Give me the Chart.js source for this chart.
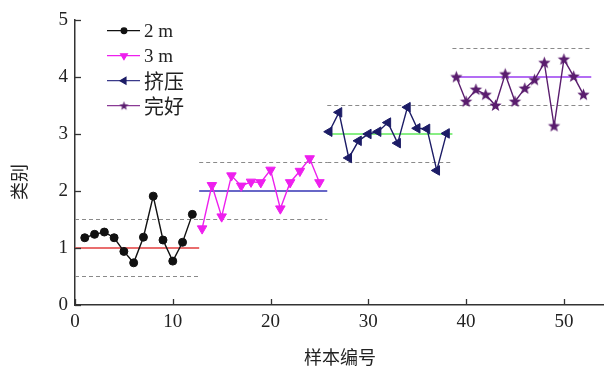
<!DOCTYPE html>
<html>
<head>
<meta charset="utf-8">
<script src="https://cdn.jsdelivr.net/npm/chart.js@4"></script>
<style>
  html, body { margin: 0; padding: 0; background: #fff; }
  canvas { display: block; }
</style>
</head>
<body>
<canvas id="classChart" width="604" height="369"></canvas>
<script>
// sample numbers and class values
const samples2m = [1, 2, 3, 4, 5, 6, 7, 8, 9, 10, 11, 12];
const values2m = [1.18, 1.24, 1.28, 1.18, 0.94, 0.74, 1.19, 1.91, 1.14, 0.77, 1.1, 1.59];

const samples3m = [13, 14, 15, 16, 17, 18, 19, 20, 21, 22, 23, 24, 25];
const values3m = [1.34, 2.1, 1.55, 2.27, 2.09, 2.16, 2.15, 2.37, 1.69, 2.15, 2.35, 2.57, 2.15];

const samplesSqueeze = [26, 27, 28, 29, 30, 31, 32, 33, 34, 35, 36, 37, 38];
const valuesSqueeze = [3.04, 3.38, 2.58, 2.88, 3.0, 3.04, 3.2, 2.84, 3.47, 3.1, 3.09, 2.36, 3.01];

const samplesIntact = [39, 40, 41, 42, 43, 44, 45, 46, 47, 48, 49, 50, 51, 52];
const valuesIntact = [4.0, 3.57, 3.78, 3.69, 3.5, 4.05, 3.57, 3.8, 3.95, 4.25, 3.14, 4.31, 4.01, 3.69];

// target class of each group and the sample range it covers
const classLevels = [1, 2, 3, 4];
const classSpans = [[0, 12.7], [12.7, 25.8], [25.8, 38.6], [38.6, 52.8]];
const classHalfWidth = 0.5;

const seriesLabels = ['2 m', '3 m', '挤压', '完好'];
const xTicks = [0, 10, 20, 30, 40, 50];
const yTicks = [0, 1, 2, 3, 4, 5];

const levelColors = ['#e23c3c', '#3535b5', '#5fe85a', '#9a3cf0'];
const SERIF = '"Liberation Serif", "Times New Roman", serif';
const CJK = '"Noto Sans CJK SC", sans-serif';

// filled five point star for the "完好" markers
function makeStar(color, size) {
    const c = document.createElement('canvas');
    c.width = size; c.height = size;
    const g = c.getContext('2d');
    const m = size / 2, ro = size * 0.43, ri = size * 0.18;
    g.fillStyle = color;
    g.beginPath();
    for (let i = 0; i < 10; i++) {
        const r = i % 2 === 0 ? ro : ri;
        const a = -Math.PI / 2 + i * Math.PI / 5;
        const px = m + r * Math.cos(a), py = m + 0.3 + r * Math.sin(a);
        if (i === 0) g.moveTo(px, py); else g.lineTo(px, py);
    }
    g.closePath();
    g.fill();
    return c;
}
const starImg = makeStar('#5a1d6e', 15);
const starSmall = makeStar('#5a1d6e', 11);

function toPoints(xs, ys) {
    return xs.map((x, i) => ({ x: x, y: ys[i] }));
}

const seriesStyles = [
    { color: '#111111', pointStyle: 'circle', legendStyle: 'circle', rotation: 0, radius: 4 },
    { color: '#ee1fee', pointStyle: 'triangle', legendStyle: 'triangle', rotation: 180, radius: 5.5 },
    { color: '#1c1c66', pointStyle: 'triangle', legendStyle: 'triangle', rotation: 270, radius: 5.5 },
    { color: '#5a1d6e', pointStyle: starImg, legendStyle: starSmall, rotation: 0, radius: 6 }
];
const legendLineColors = ['#111111', '#ee1fee', '#3a3a8a', '#8a3a95'];
const seriesData = [
    toPoints(samples2m, values2m),
    toPoints(samples3m, values3m),
    toPoints(samplesSqueeze, valuesSqueeze),
    toPoints(samplesIntact, valuesIntact)
];

const datasets = [];
seriesData.forEach((pts, i) => {
    const s = seriesStyles[i];
    datasets.push({
        label: seriesLabels[i],
        data: pts,
        showLine: true,
        borderColor: s.color,
        backgroundColor: s.color,
        borderWidth: 1.4,
        pointStyle: s.pointStyle,
        pointRotation: s.rotation,
        pointRadius: s.radius,
        pointBorderWidth: 1,
        order: 0
    });
});
classLevels.forEach((level, i) => {
    const span = classSpans[i];
    datasets.push({
        data: [{ x: span[0], y: level }, { x: span[1], y: level }],
        showLine: true,
        borderColor: levelColors[i],
        borderWidth: 1.6,
        pointRadius: 0,
        order: 1
    });
    [level - classHalfWidth, level + classHalfWidth].forEach(b => {
        datasets.push({
            data: [{ x: span[0], y: b }, { x: span[1], y: b }],
            showLine: true,
            borderColor: '#8a8a8a',
            borderWidth: 1.2,
            borderDash: [4, 3],
            pointRadius: 0,
            order: 2
        });
    });
});

// inward tick marks, axis titles and the in-plot legend
const decorations = {
    id: 'decorations',
    afterDraw(chart) {
        const ctx = chart.ctx;
        const xs = chart.scales.x, ys = chart.scales.y;
        const area = chart.chartArea;
        ctx.save();
        ctx.strokeStyle = '#333';
        ctx.lineWidth = 1.3;
        xTicks.forEach(v => {
            const px = Math.round(xs.getPixelForValue(v)) + 0.5;
            ctx.beginPath();
            ctx.moveTo(px, area.bottom);
            ctx.lineTo(px, area.bottom - 6);
            ctx.stroke();
        });
        yTicks.forEach(v => {
            const py = Math.round(ys.getPixelForValue(v)) + 0.5;
            ctx.beginPath();
            ctx.moveTo(area.left, py);
            ctx.lineTo(area.left + 6, py);
            ctx.stroke();
        });

        ctx.fillStyle = '#222';
        ctx.font = '18px ' + CJK;
        ctx.textAlign = 'center';
        ctx.textBaseline = 'middle';
        ctx.fillText('样本编号', 340, 357);
        ctx.save();
        ctx.translate(19, 182);
        ctx.rotate(-Math.PI / 2);
        ctx.fillText('类别', 0, 0);
        ctx.restore();

        const helpers = Chart.helpers;
        seriesLabels.forEach((label, i) => {
            const s = seriesStyles[i];
            const y = 30.7 + i * 25;
            ctx.strokeStyle = legendLineColors[i];
            ctx.lineWidth = 1.3;
            ctx.setLineDash([]);
            ctx.beginPath();
            ctx.moveTo(107, y);
            ctx.lineTo(140, y);
            ctx.stroke();
            ctx.strokeStyle = s.color;
            ctx.fillStyle = s.color;
            helpers.drawPoint(ctx, {
                pointStyle: s.legendStyle,
                rotation: s.rotation,
                radius: s.radius * 0.7,
                borderWidth: 1
            }, 124, y);
            ctx.fillStyle = '#222';
            ctx.textAlign = 'left';
            ctx.textBaseline = 'middle';
            ctx.font = (i < 2 ? '19px ' + SERIF : '20px ' + CJK);
            ctx.fillText(label, 144, y + 1);
        });
        ctx.restore();
    }
};

new Chart(document.getElementById('classChart'), {
    type: 'scatter',
    data: { datasets: datasets },
    options: {
        responsive: false,
        devicePixelRatio: 1,
        animation: false,
        layout: { autoPadding: false, padding: { top: 20, right: 1, left: 0, bottom: 0 } },
        plugins: {
            legend: { display: false },
            tooltip: { enabled: false }
        },
        scales: {
            x: {
                type: 'linear',
                min: 0,
                max: 54,
                afterBuildTicks: s => { s.ticks = xTicks.map(v => ({ value: v })); },
                afterFit: s => { s.height = 64; },
                grid: { display: false, drawTicks: false },
                border: { display: true, color: '#333', width: 1.5 },
                ticks: {
                    color: '#222',
                    padding: 6,
                    font: { family: SERIF, size: 19 },
                    maxRotation: 0
                }
            },
            y: {
                type: 'linear',
                min: 0,
                max: 5,
                afterBuildTicks: s => { s.ticks = yTicks.map(v => ({ value: v })); },
                afterFit: s => { s.width = 75; },
                grid: { display: false, drawTicks: false },
                border: { display: true, color: '#333', width: 1.5 },
                ticks: {
                    color: '#222',
                    padding: 7,
                    font: { family: SERIF, size: 19 }
                }
            }
        }
    },
    plugins: [decorations]
});
</script>
</body>
</html>
